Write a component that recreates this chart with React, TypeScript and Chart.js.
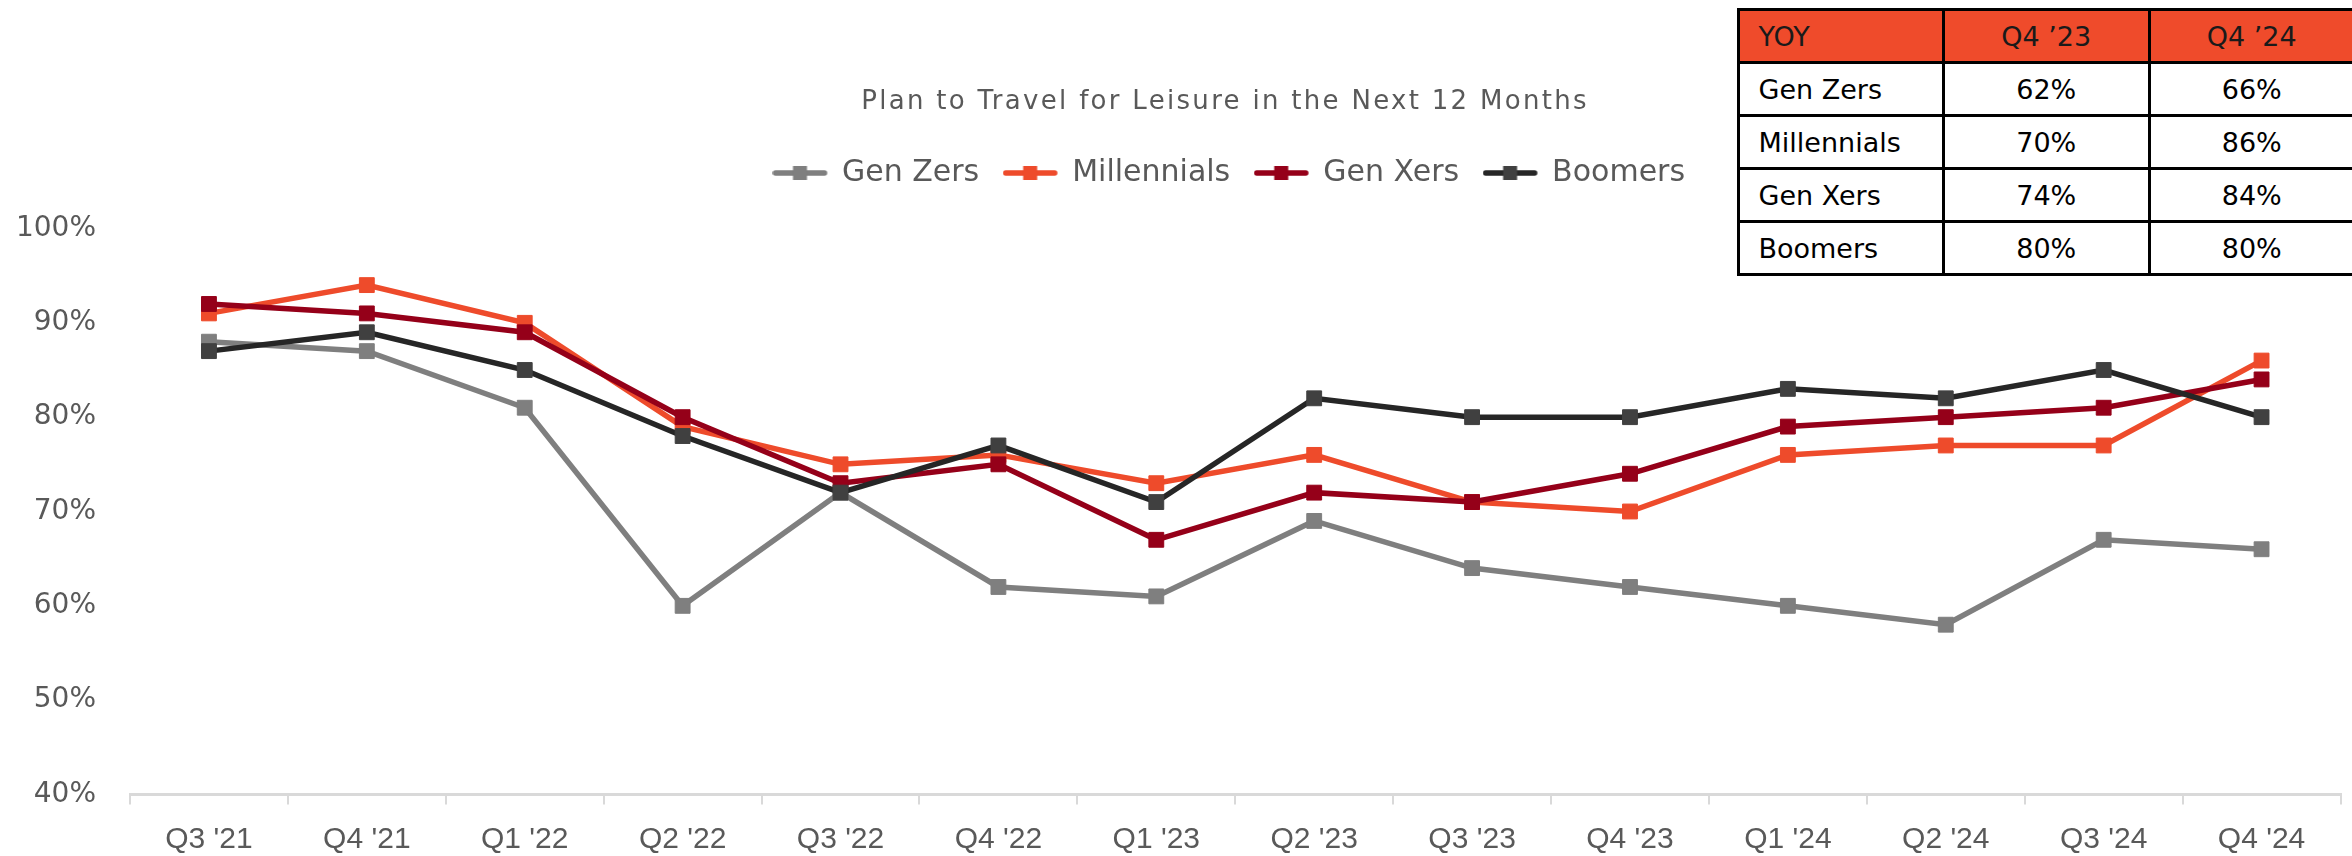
import React, { useEffect, useRef } from 'react';
import { Chart, registerables } from 'chart.js';

Chart.register(...registerables);

const TITLE = 'Plan to Travel for Leisure in the Next 12 Months';

const CATEGORIES = ["Q3 '21", "Q4 '21", "Q1 '22", "Q2 '22", "Q3 '22", "Q4 '22", "Q1 '23", "Q2 '23", "Q3 '23", "Q4 '23", "Q1 '24", "Q2 '24", "Q3 '24", "Q4 '24"];

const GEN_ZERS = [88, 87, 81, 60, 72, 62, 61, 69, 64, 62, 60, 58, 67, 66];
const MILLENNIALS = [91, 94, 90, 79, 75, 76, 73, 76, 71, 70, 76, 77, 77, 86];
const GEN_XERS = [92, 91, 89, 80, 73, 75, 67, 72, 71, 74, 79, 80, 81, 84];
const BOOMERS = [87, 89, 85, 78, 72, 77, 71, 82, 80, 80, 83, 82, 85, 80];

const SERIES_NAMES = ['Gen Zers', 'Millennials', 'Gen Xers', 'Boomers'];
const SERIES_DATA = [GEN_ZERS, MILLENNIALS, GEN_XERS, BOOMERS];
const LINE_COLORS = ['#7F7F7F', '#EE4B2B', '#950019', '#262626'];
const MARKER_COLORS = ['#7F7F7F', '#EE4B2B', '#950019', '#404040'];

const Y_TICK_VALUES = [40, 50, 60, 70, 80, 90, 100];

const TABLE_HEADERS = ['YOY', 'Q4 \u201923', 'Q4 \u201924'];
const TABLE_ROW_NAMES = ['Gen Zers', 'Millennials', 'Gen Xers', 'Boomers'];
const TABLE_Q4_23 = ['62%', '70%', '74%', '80%'];
const TABLE_Q4_24 = ['66%', '86%', '84%', '80%'];

const TEXT_GREY = '#595959';
const LEGEND_SHIFT = 62.5;
const TITLE_SHIFT = 53.5;

function makeLegendMarker(line: string, marker: string): HTMLCanvasElement {
  const c = document.createElement('canvas');
  c.width = 65;
  c.height = 16;
  const ctx = c.getContext('2d') as CanvasRenderingContext2D;
  ctx.strokeStyle = line;
  ctx.lineWidth = 5.5;
  ctx.lineCap = 'round';
  ctx.beginPath();
  ctx.moveTo(3, 8);
  ctx.lineTo(52, 8);
  ctx.stroke();
  ctx.fillStyle = marker;
  ctx.fillRect(27.5 - 7, 1, 14, 14);
  return c;
}

const headerShiftPlugin = {
  id: 'headerShift',
  afterLayout(chart: any) {
    const pairs: Array<[any, number]> = [
      [chart.legend, LEGEND_SHIFT],
      [chart.titleBlock, TITLE_SHIFT],
    ];
    pairs.forEach(([b, d]) => {
      if (b) {
        b.left += d;
        b.right += d;
      }
    });
  },
};

function ChartCanvas() {
  const ref = useRef<HTMLCanvasElement | null>(null);

  useEffect(() => {
    const canvas = ref.current;
    if (!canvas) return;
    const markers = SERIES_NAMES.map((_, i) => makeLegendMarker(LINE_COLORS[i], MARKER_COLORS[i]));

    const datasets = SERIES_NAMES.map((name, i) => ({
      label: name,
      data: SERIES_DATA[i],
      borderColor: LINE_COLORS[i],
      backgroundColor: MARKER_COLORS[i],
      borderWidth: 5.5,
      pointStyle: 'rect' as const,
      pointRadius: 10.5,
      pointHoverRadius: 10.5,
      pointBackgroundColor: MARKER_COLORS[i],
      pointBorderColor: MARKER_COLORS[i],
      pointBorderWidth: 1,
      tension: 0,
      order: SERIES_NAMES.length - i,
      clip: false as const,
    }));

    const chart = new Chart(canvas, {
      type: 'line',
      data: { labels: CATEGORIES, datasets },
      plugins: [headerShiftPlugin],
      options: {
        responsive: false,
        animation: false,
        devicePixelRatio: 1,
        events: [],
        layout: { padding: { top: 0, left: 0, right: 9, bottom: 0 } },
        plugins: {
          tooltip: { enabled: false },
          title: {
            display: true,
            text: TITLE,
            color: TEXT_GREY,
            font: { family: 'DejaVu Sans', size: 26, weight: 'normal', lineHeight: 1.2 },
            padding: { top: 86.4, bottom: 6.4 },
          },
          legend: {
            display: true,
            position: 'top',
            align: 'center',
            labels: {
              usePointStyle: true,
              pointStyleWidth: 44,
              padding: 34,
              color: TEXT_GREY,
              font: { family: 'DejaVu Sans', size: 30 },
              generateLabels: (ch: any) =>
                ch.data.datasets.map((ds: any, i: number) => ({
                  text: ds.label,
                  fillStyle: MARKER_COLORS[i],
                  strokeStyle: LINE_COLORS[i],
                  lineWidth: 0,
                  pointStyle: markers[i],
                  hidden: false,
                  datasetIndex: i,
                  fontColor: TEXT_GREY,
                })),
            },
          },
          subtitle: {
            display: true,
            text: '',
            position: 'top',
            weight: 500,
            padding: 0,
            font: { size: 30.5, lineHeight: 1 },
          } as any,
        },
        scales: {
          x: {
            type: 'category',
            offset: true,
            grid: {
              display: true,
              offset: true,
              drawOnChartArea: false,
              drawTicks: true,
              tickLength: 10,
              color: '#D9D9D9',
              lineWidth: 2,
            },
            border: { display: true, color: '#D9D9D9', width: 3 },
            ticks: {
              color: TEXT_GREY,
              font: { family: 'Liberation Sans', size: 30 },
              padding: 17,
              maxRotation: 0,
              autoSkip: false,
            },
            afterFit: (s: any) => {
              s.height = 61.5;
            },
          },
          y: {
            type: 'linear',
            min: 40,
            max: 100,
            grid: { display: false, drawTicks: false },
            border: { display: false },
            afterBuildTicks: (s: any) => {
              s.ticks = Y_TICK_VALUES.map((v) => ({ value: v }));
            },
            ticks: {
              color: TEXT_GREY,
              font: { family: 'DejaVu Sans', size: 28 },
              padding: 34,
              callback: (v: any) => `${v}%`,
            },
            afterFit: (s: any) => {
              s.width = 130;
            },
          },
        },
      } as any,
    });

    const tb = (chart as any).titleBlock;
    if (tb) {
      const orig = tb.draw.bind(tb);
      tb.draw = (...args: any[]) => {
        const ctx = chart.ctx as any;
        const prev = ctx.letterSpacing;
        ctx.letterSpacing = '2.3px';
        orig(...args);
        ctx.letterSpacing = prev || '0px';
      };
      chart.draw();
    }

    return () => {
      chart.destroy();
    };
  }, []);

  return (
    <canvas
      ref={ref}
      width={2352}
      height={856}
      style={{ position: 'absolute', left: 0, top: 0, width: 2352, height: 856 }}
    />
  );
}

function YoyTable() {
  const cellBase: React.CSSProperties = {
    border: '3px solid #000',
    padding: 0,
    fontWeight: 'normal',
    verticalAlign: 'middle',
    whiteSpace: 'nowrap',
  };
  return (
    <table
      style={{
        position: 'absolute',
        left: 1736.5,
        top: 8,
        borderCollapse: 'collapse',
        tableLayout: 'fixed',
        width: 619.5,
        fontFamily: 'DejaVu Sans',
        fontSize: 27,
        color: '#000',
        background: '#fff',
      }}
    >
      <colgroup>
        <col style={{ width: 205.5 }} />
        <col style={{ width: 205.5 }} />
        <col style={{ width: 205.5 }} />
      </colgroup>
      <thead>
        <tr style={{ height: 53, background: '#EF4B2B', color: '#1a1a1a' }}>
          {TABLE_HEADERS.map((h, i) => (
            <th key={h} style={{ ...cellBase, textAlign: i === 0 ? 'left' : 'center', paddingLeft: i === 0 ? 19 : 0 }}>
              {h}
            </th>
          ))}
        </tr>
      </thead>
      <tbody>
        {TABLE_ROW_NAMES.map((name, r) => (
          <tr key={name} style={{ height: 53 }}>
            <td style={{ ...cellBase, textAlign: 'left', paddingLeft: 19 }}>{name}</td>
            <td style={{ ...cellBase, textAlign: 'center' }}>{TABLE_Q4_23[r]}</td>
            <td style={{ ...cellBase, textAlign: 'center' }}>{TABLE_Q4_24[r]}</td>
          </tr>
        ))}
      </tbody>
    </table>
  );
}

export default function App() {
  return (
    <div
      style={{
        position: 'fixed',
        left: 0,
        top: 0,
        width: 2352,
        height: 856,
        overflow: 'hidden',
        background: '#fff',
      }}
    >
      <ChartCanvas />
      <YoyTable />
    </div>
  );
}
